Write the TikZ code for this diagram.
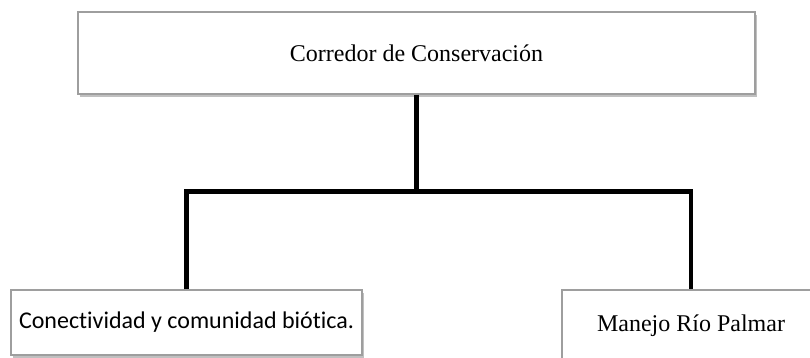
\documentclass[tikz,border=0pt]{standalone}
\usepackage{fontspec}
\setmainfont{Liberation Serif}
\newfontfamily\calibri[Ligatures=NoCommon]{Carlito}
\usetikzlibrary{shadows}
\tikzset{
  boxstyle/.style={draw=black!38, line width=0.7pt, fill=white, inner sep=0pt,
    font=\fontsize{12pt}{14pt}\selectfont,
    drop shadow={shadow xshift=1.2pt, shadow yshift=-1.4pt, fill=black!45, opacity=0.55}},
  linkstyle/.style={line width=2.3pt, draw=black, line join=miter}
}
\begin{document}
\begin{tikzpicture}[x=0.5pt, y=-0.5pt]
\useasboundingbox (0,0) rectangle (810,358);
\node[boxstyle, minimum width=338.5pt, minimum height=41pt] (top) at (416.5,53) {Corredor de Conservación};
\node[boxstyle, minimum width=175.5pt, minimum height=32.5pt, font=\calibri\fontsize{12pt}{14pt}\selectfont] (left) at (186.5,322.5) {Conectividad y comunidad biótica.};
\node[boxstyle, minimum width=129pt, minimum height=36pt] (right) at (691,326) {Manejo Río Palmar};
\coordinate (j) at (416.5,191.5);
\draw[linkstyle] (top.south) -- (j);
\draw[linkstyle] (left.north) -- (left.north |- j) -- (right.north |- j) -- (right.north);
\end{tikzpicture}
\end{document}
